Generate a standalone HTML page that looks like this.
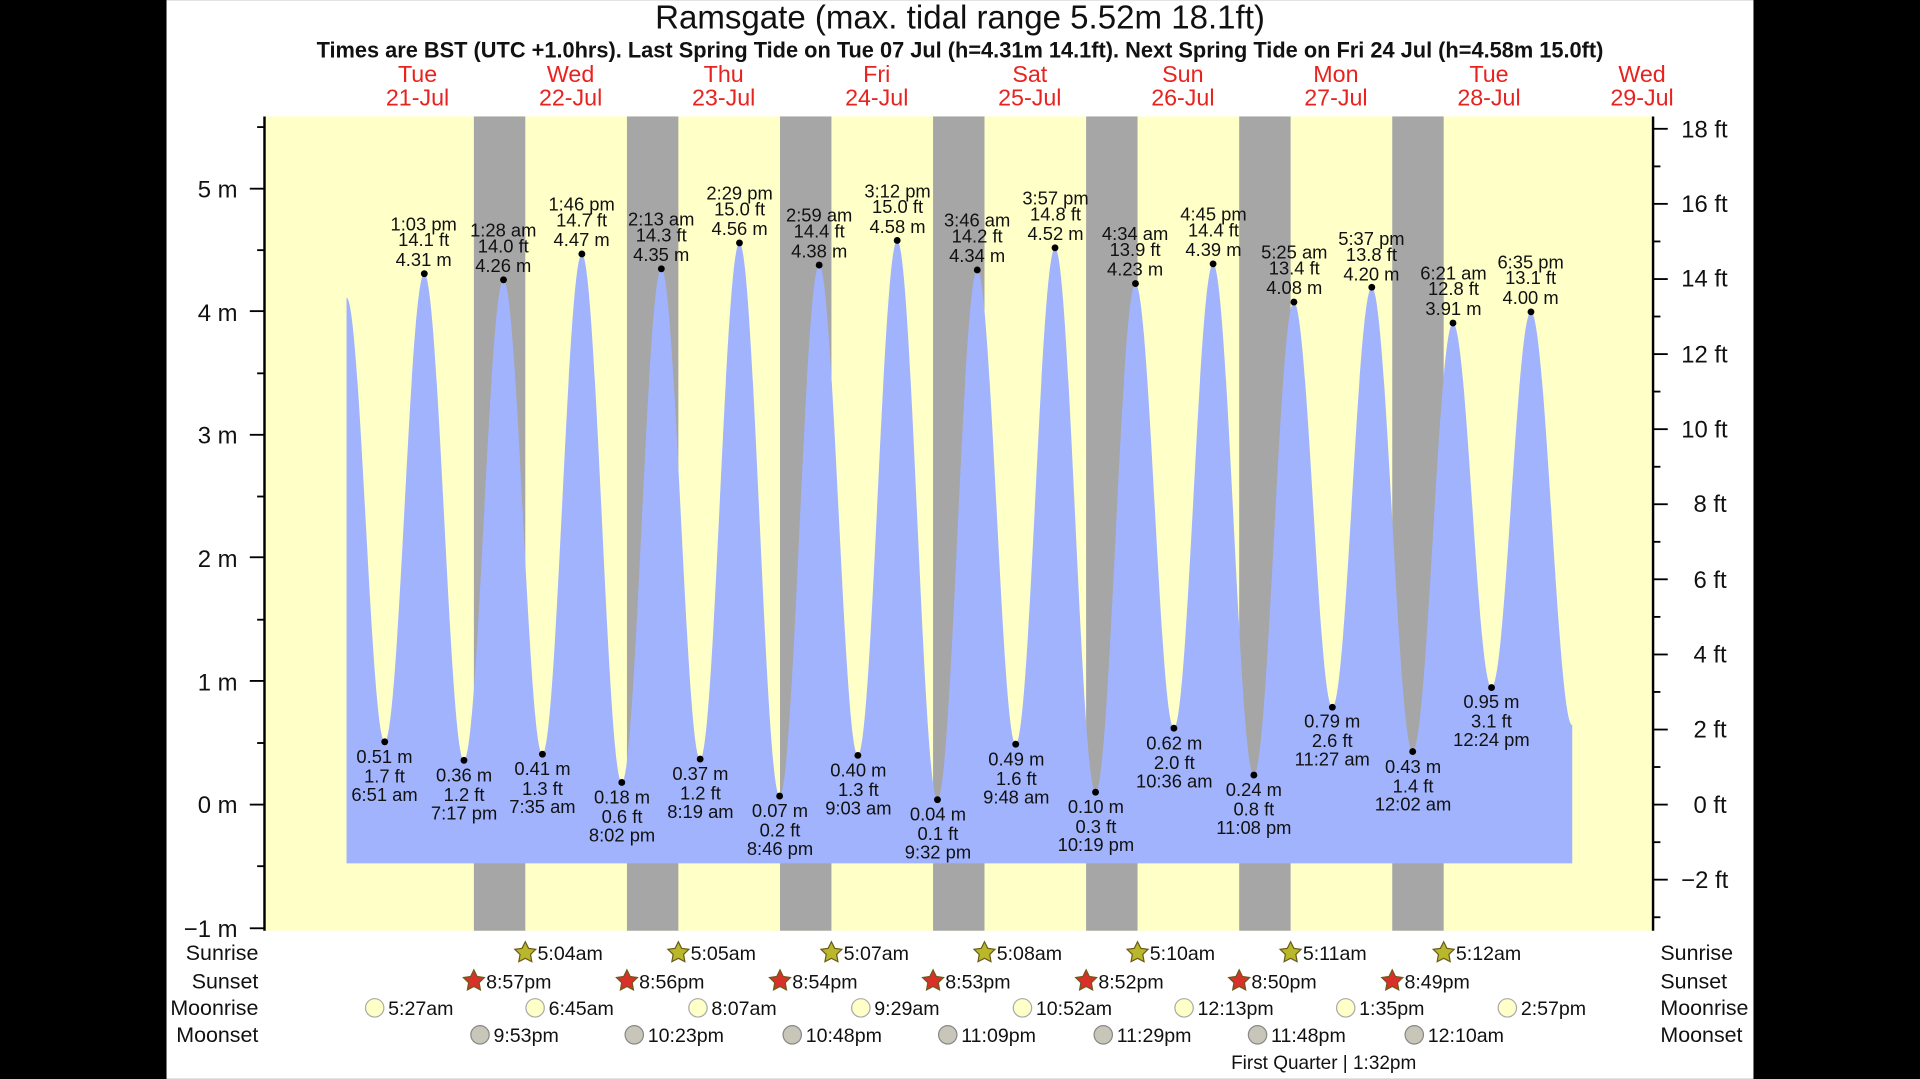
<!DOCTYPE html>
<html><head><meta charset="utf-8"><style>
html,body{margin:0;padding:0;background:#000;}
svg{display:block;}
text{font-family:"Liberation Sans",Arial,sans-serif;}
</style></head><body>
<svg width="1920" height="1079" viewBox="0 0 1568 881" xmlns="http://www.w3.org/2000/svg">
<rect x="0" y="0" width="1568" height="881" fill="#000"/>
<rect x="136" y="0" width="1296" height="881" fill="#fff"/>
<rect x="216" y="95" width="1134" height="665" fill="#ffffc8"/>
<g fill="#a6a6a6">
<rect x="387" y="95" width="42" height="665"/><rect x="512" y="95" width="42" height="665"/>
<rect x="637" y="95" width="42" height="665"/><rect x="762" y="95" width="42" height="665"/>
<rect x="887" y="95" width="42" height="665"/><rect x="1012" y="95" width="42" height="665"/>
<rect x="1137" y="95" width="42" height="665"/>
</g>
<path fill="#a1b3fd" d="M283,705 L283,243 C294.4,243 302.8,605.7 314.2,605.7 C326,605.7 334.7,223.4 346.5,223.4 C358.3,223.4 367.1,620.8 378.9,620.8 C390.7,620.8 399.4,228.4 411.2,228.4 C422.8,228.4 431.4,615.8 443,615.8 C454.7,615.8 463.5,207.3 475.2,207.3 C487.1,207.3 495.9,638.9 507.8,638.9 C519.6,638.9 528.3,219.4 540.1,219.4 C551.6,219.4 560.3,619.8 571.8,619.8 C583.5,619.8 592.2,198.3 603.9,198.3 C615.8,198.3 624.8,650 636.7,650 C648.5,650 657.2,216.4 669,216.4 C680.5,216.4 689.1,616.8 700.6,616.8 C712.3,616.8 721,196.3 732.7,196.3 C744.7,196.3 753.6,653 765.6,653 C777.4,653 786.3,220.4 798.1,220.4 C809.5,220.4 818.1,607.7 829.5,607.7 C841.2,607.7 849.9,202.3 861.6,202.3 C873.6,202.3 882.7,646.9 894.7,646.9 C906.6,646.9 915.4,231.5 927.3,231.5 C938.7,231.5 947.3,594.6 958.7,594.6 C970.3,594.6 979.1,215.4 990.7,215.4 C1002.8,215.4 1011.9,632.9 1024,632.9 C1035.9,632.9 1044.8,246.6 1056.7,246.6 C1068.1,246.6 1076.7,577.5 1088.1,577.5 C1099.8,577.5 1108.6,234.5 1120.3,234.5 C1132.5,234.5 1141.5,613.7 1153.7,613.7 C1165.7,613.7 1174.6,263.7 1186.6,263.7 C1198.1,263.7 1206.6,561.4 1218.1,561.4 C1229.8,561.4 1238.6,254.6 1250.3,254.6 C1262.5,254.6 1272,592 1284,592 L1284,705 Z"/>
<g fill="#000">
<circle cx="314.2" cy="605.7" r="2.8"/><circle cx="346.5" cy="223.4" r="2.8"/><circle cx="378.9" cy="620.8" r="2.8"/><circle cx="411.2" cy="228.4" r="2.8"/>
<circle cx="443" cy="615.8" r="2.8"/><circle cx="475.2" cy="207.3" r="2.8"/><circle cx="507.8" cy="638.9" r="2.8"/><circle cx="540.1" cy="219.4" r="2.8"/>
<circle cx="571.8" cy="619.8" r="2.8"/><circle cx="603.9" cy="198.3" r="2.8"/><circle cx="636.7" cy="650" r="2.8"/><circle cx="669" cy="216.4" r="2.8"/>
<circle cx="700.6" cy="616.8" r="2.8"/><circle cx="732.7" cy="196.3" r="2.8"/><circle cx="765.6" cy="653" r="2.8"/><circle cx="798.1" cy="220.4" r="2.8"/>
<circle cx="829.5" cy="607.7" r="2.8"/><circle cx="861.6" cy="202.3" r="2.8"/><circle cx="894.7" cy="646.9" r="2.8"/><circle cx="927.3" cy="231.5" r="2.8"/>
<circle cx="958.7" cy="594.6" r="2.8"/><circle cx="990.7" cy="215.4" r="2.8"/><circle cx="1024" cy="632.9" r="2.8"/><circle cx="1056.7" cy="246.6" r="2.8"/>
<circle cx="1088.1" cy="577.5" r="2.8"/><circle cx="1120.3" cy="234.5" r="2.8"/><circle cx="1153.7" cy="613.7" r="2.8"/><circle cx="1186.6" cy="263.7" r="2.8"/>
<circle cx="1218.1" cy="561.4" r="2.8"/><circle cx="1250.3" cy="254.6" r="2.8"/>
</g>
<g stroke="#000" stroke-width="2">
<line x1="216" y1="95" x2="216" y2="760"/><line x1="1350" y1="95" x2="1350" y2="760"/>
</g>
<g stroke="#000" stroke-width="1.5">
<line x1="204" y1="758" x2="216" y2="758"/><line x1="204" y1="657" x2="216" y2="657"/><line x1="204" y1="556" x2="216" y2="556"/><line x1="204" y1="455" x2="216" y2="455"/><line x1="204" y1="355" x2="216" y2="355"/><line x1="204" y1="254" x2="216" y2="254"/><line x1="204" y1="154" x2="216" y2="154"/>
<line x1="210" y1="707.3" x2="216" y2="707.3"/><line x1="210" y1="606.7" x2="216" y2="606.7"/><line x1="210" y1="506" x2="216" y2="506"/><line x1="210" y1="405.4" x2="216" y2="405.4"/><line x1="210" y1="304.8" x2="216" y2="304.8"/><line x1="210" y1="204.2" x2="216" y2="204.2"/><line x1="210" y1="103.7" x2="216" y2="103.7"/>
<line x1="1350" y1="718.3" x2="1362" y2="718.3"/><line x1="1350" y1="657" x2="1362" y2="657"/><line x1="1350" y1="595.7" x2="1362" y2="595.7"/><line x1="1350" y1="534.4" x2="1362" y2="534.4"/><line x1="1350" y1="473" x2="1362" y2="473"/><line x1="1350" y1="411.7" x2="1362" y2="411.7"/><line x1="1350" y1="350.4" x2="1362" y2="350.4"/><line x1="1350" y1="289.1" x2="1362" y2="289.1"/><line x1="1350" y1="227.8" x2="1362" y2="227.8"/><line x1="1350" y1="166.4" x2="1362" y2="166.4"/><line x1="1350" y1="105.1" x2="1362" y2="105.1"/>
<line x1="1350" y1="749" x2="1356" y2="749"/><line x1="1350" y1="687.7" x2="1356" y2="687.7"/><line x1="1350" y1="626.3" x2="1356" y2="626.3"/><line x1="1350" y1="565" x2="1356" y2="565"/><line x1="1350" y1="503.7" x2="1356" y2="503.7"/><line x1="1350" y1="442.4" x2="1356" y2="442.4"/><line x1="1350" y1="381.1" x2="1356" y2="381.1"/><line x1="1350" y1="319.7" x2="1356" y2="319.7"/><line x1="1350" y1="258.4" x2="1356" y2="258.4"/><line x1="1350" y1="197.1" x2="1356" y2="197.1"/><line x1="1350" y1="135.8" x2="1356" y2="135.8"/>
</g>
<g font-size="19.5" text-anchor="end" fill="#111">
<text x="194" y="161">5 m</text><text x="194" y="262">4 m</text><text x="194" y="362">3 m</text>
<text x="194" y="463">2 m</text><text x="194" y="564">1 m</text><text x="194" y="664">0 m</text><text x="194" y="765">−1 m</text>
</g>
<g font-size="19.5" fill="#111">
<text x="1373" y="112">18 ft</text><text x="1373" y="173">16 ft</text><text x="1373" y="234">14 ft</text>
<text x="1373" y="296">12 ft</text><text x="1373" y="357">10 ft</text><text x="1383" y="418">8 ft</text>
<text x="1383" y="480">6 ft</text><text x="1383" y="541">4 ft</text><text x="1383" y="602">2 ft</text>
<text x="1383" y="664">0 ft</text><text x="1373" y="725">−2 ft</text>
</g>
<text x="784" y="23" font-size="27" text-anchor="middle" fill="#111">Ramsgate (max. tidal range 5.52m 18.1ft)</text>
<text x="784" y="47" font-size="17.8" font-weight="bold" text-anchor="middle" fill="#111">Times are BST (UTC +1.0hrs). Last Spring Tide on Tue 07 Jul (h=4.31m 14.1ft). Next Spring Tide on Fri 24 Jul (h=4.58m 15.0ft)</text>
<g font-size="19" text-anchor="middle" fill="#e8231f">
<text x="341" y="67">Tue</text><text x="341" y="86">21-Jul</text>
<text x="466" y="67">Wed</text><text x="466" y="86">22-Jul</text>
<text x="591" y="67">Thu</text><text x="591" y="86">23-Jul</text>
<text x="716" y="67">Fri</text><text x="716" y="86">24-Jul</text>
<text x="841" y="67">Sat</text><text x="841" y="86">25-Jul</text>
<text x="966" y="67">Sun</text><text x="966" y="86">26-Jul</text>
<text x="1091" y="67">Mon</text><text x="1091" y="86">27-Jul</text>
<text x="1216" y="67">Tue</text><text x="1216" y="86">28-Jul</text>
<text x="1341" y="67">Wed</text><text x="1341" y="86">29-Jul</text>
</g>
<g font-size="15" text-anchor="middle" fill="#111">
<text x="314" y="623">0.51 m</text><text x="314" y="639">1.7 ft</text><text x="314" y="654">6:51 am</text>
<text x="346" y="188">1:03 pm</text><text x="346" y="201">14.1 ft</text><text x="346" y="217">4.31 m</text>
<text x="379" y="638">0.36 m</text><text x="379" y="654">1.2 ft</text><text x="379" y="669">7:17 pm</text>
<text x="411" y="193">1:28 am</text><text x="411" y="206">14.0 ft</text><text x="411" y="222">4.26 m</text>
<text x="443" y="633">0.41 m</text><text x="443" y="649">1.3 ft</text><text x="443" y="664">7:35 am</text>
<text x="475" y="172">1:46 pm</text><text x="475" y="185">14.7 ft</text><text x="475" y="201">4.47 m</text>
<text x="508" y="656">0.18 m</text><text x="508" y="672">0.6 ft</text><text x="508" y="687">8:02 pm</text>
<text x="540" y="184">2:13 am</text><text x="540" y="197">14.3 ft</text><text x="540" y="213">4.35 m</text>
<text x="572" y="637">0.37 m</text><text x="572" y="653">1.2 ft</text><text x="572" y="668">8:19 am</text>
<text x="604" y="163">2:29 pm</text><text x="604" y="176">15.0 ft</text><text x="604" y="192">4.56 m</text>
<text x="637" y="667">0.07 m</text><text x="637" y="683">0.2 ft</text><text x="637" y="698">8:46 pm</text>
<text x="669" y="181">2:59 am</text><text x="669" y="194">14.4 ft</text><text x="669" y="210">4.38 m</text>
<text x="701" y="634">0.40 m</text><text x="701" y="650">1.3 ft</text><text x="701" y="665">9:03 am</text>
<text x="733" y="161">3:12 pm</text><text x="733" y="174">15.0 ft</text><text x="733" y="190">4.58 m</text>
<text x="766" y="670">0.04 m</text><text x="766" y="686">0.1 ft</text><text x="766" y="701">9:32 pm</text>
<text x="798" y="185">3:46 am</text><text x="798" y="198">14.2 ft</text><text x="798" y="214">4.34 m</text>
<text x="830" y="625">0.49 m</text><text x="830" y="641">1.6 ft</text><text x="830" y="656">9:48 am</text>
<text x="862" y="167">3:57 pm</text><text x="862" y="180">14.8 ft</text><text x="862" y="196">4.52 m</text>
<text x="895" y="664">0.10 m</text><text x="895" y="680">0.3 ft</text><text x="895" y="695">10:19 pm</text>
<text x="927" y="196">4:34 am</text><text x="927" y="209">13.9 ft</text><text x="927" y="225">4.23 m</text>
<text x="959" y="612">0.62 m</text><text x="959" y="628">2.0 ft</text><text x="959" y="643">10:36 am</text>
<text x="991" y="180">4:45 pm</text><text x="991" y="193">14.4 ft</text><text x="991" y="209">4.39 m</text>
<text x="1024" y="650">0.24 m</text><text x="1024" y="666">0.8 ft</text><text x="1024" y="681">11:08 pm</text>
<text x="1057" y="211">5:25 am</text><text x="1057" y="224">13.4 ft</text><text x="1057" y="240">4.08 m</text>
<text x="1088" y="594">0.79 m</text><text x="1088" y="610">2.6 ft</text><text x="1088" y="625">11:27 am</text>
<text x="1120" y="200">5:37 pm</text><text x="1120" y="213">13.8 ft</text><text x="1120" y="229">4.20 m</text>
<text x="1154" y="631">0.43 m</text><text x="1154" y="647">1.4 ft</text><text x="1154" y="662">12:02 am</text>
<text x="1187" y="228">6:21 am</text><text x="1187" y="241">12.8 ft</text><text x="1187" y="257">3.91 m</text>
<text x="1218" y="578">0.95 m</text><text x="1218" y="594">3.1 ft</text><text x="1218" y="609">12:24 pm</text>
<text x="1250" y="219">6:35 pm</text><text x="1250" y="232">13.1 ft</text><text x="1250" y="248">4.00 m</text>
</g>
<g font-size="17.5" text-anchor="end" fill="#111">
<text x="211" y="784">Sunrise</text><text x="211" y="807">Sunset</text><text x="211" y="829">Moonrise</text><text x="211" y="851">Moonset</text>
</g>
<g font-size="17.5" fill="#111">
<text x="1356" y="784">Sunrise</text><text x="1356" y="807">Sunset</text><text x="1356" y="829">Moonrise</text><text x="1356" y="851">Moonset</text>
</g>
<g fill="#b8b82a" stroke="#6b5a1a" stroke-width="1">
<polygon transform="translate(429,778)" points="0,-9 2.65,-3.64 8.56,-2.78 4.28,1.39 5.29,7.28 0,4.5 -5.29,7.28 -4.28,1.39 -8.56,-2.78 -2.65,-3.64"/>
<polygon transform="translate(554,778)" points="0,-9 2.65,-3.64 8.56,-2.78 4.28,1.39 5.29,7.28 0,4.5 -5.29,7.28 -4.28,1.39 -8.56,-2.78 -2.65,-3.64"/>
<polygon transform="translate(679,778)" points="0,-9 2.65,-3.64 8.56,-2.78 4.28,1.39 5.29,7.28 0,4.5 -5.29,7.28 -4.28,1.39 -8.56,-2.78 -2.65,-3.64"/>
<polygon transform="translate(804,778)" points="0,-9 2.65,-3.64 8.56,-2.78 4.28,1.39 5.29,7.28 0,4.5 -5.29,7.28 -4.28,1.39 -8.56,-2.78 -2.65,-3.64"/>
<polygon transform="translate(929,778)" points="0,-9 2.65,-3.64 8.56,-2.78 4.28,1.39 5.29,7.28 0,4.5 -5.29,7.28 -4.28,1.39 -8.56,-2.78 -2.65,-3.64"/>
<polygon transform="translate(1054,778)" points="0,-9 2.65,-3.64 8.56,-2.78 4.28,1.39 5.29,7.28 0,4.5 -5.29,7.28 -4.28,1.39 -8.56,-2.78 -2.65,-3.64"/>
<polygon transform="translate(1179,778)" points="0,-9 2.65,-3.64 8.56,-2.78 4.28,1.39 5.29,7.28 0,4.5 -5.29,7.28 -4.28,1.39 -8.56,-2.78 -2.65,-3.64"/>
</g>
<g fill="#d9302a" stroke="#6b5a1a" stroke-width="1">
<polygon transform="translate(387,801)" points="0,-9 2.65,-3.64 8.56,-2.78 4.28,1.39 5.29,7.28 0,4.5 -5.29,7.28 -4.28,1.39 -8.56,-2.78 -2.65,-3.64"/>
<polygon transform="translate(512,801)" points="0,-9 2.65,-3.64 8.56,-2.78 4.28,1.39 5.29,7.28 0,4.5 -5.29,7.28 -4.28,1.39 -8.56,-2.78 -2.65,-3.64"/>
<polygon transform="translate(637,801)" points="0,-9 2.65,-3.64 8.56,-2.78 4.28,1.39 5.29,7.28 0,4.5 -5.29,7.28 -4.28,1.39 -8.56,-2.78 -2.65,-3.64"/>
<polygon transform="translate(762,801)" points="0,-9 2.65,-3.64 8.56,-2.78 4.28,1.39 5.29,7.28 0,4.5 -5.29,7.28 -4.28,1.39 -8.56,-2.78 -2.65,-3.64"/>
<polygon transform="translate(887,801)" points="0,-9 2.65,-3.64 8.56,-2.78 4.28,1.39 5.29,7.28 0,4.5 -5.29,7.28 -4.28,1.39 -8.56,-2.78 -2.65,-3.64"/>
<polygon transform="translate(1012,801)" points="0,-9 2.65,-3.64 8.56,-2.78 4.28,1.39 5.29,7.28 0,4.5 -5.29,7.28 -4.28,1.39 -8.56,-2.78 -2.65,-3.64"/>
<polygon transform="translate(1137,801)" points="0,-9 2.65,-3.64 8.56,-2.78 4.28,1.39 5.29,7.28 0,4.5 -5.29,7.28 -4.28,1.39 -8.56,-2.78 -2.65,-3.64"/>
</g>
<g fill="#ffffc8" stroke="#aaa" stroke-width="1">
<circle cx="306" cy="823" r="7.5"/><circle cx="437" cy="823" r="7.5"/><circle cx="570" cy="823" r="7.5"/><circle cx="703" cy="823" r="7.5"/>
<circle cx="835" cy="823" r="7.5"/><circle cx="967" cy="823" r="7.5"/><circle cx="1099" cy="823" r="7.5"/><circle cx="1231" cy="823" r="7.5"/>
</g>
<g fill="#c8c6b8" stroke="#888" stroke-width="1">
<circle cx="392" cy="845" r="7.5"/><circle cx="518" cy="845" r="7.5"/><circle cx="647" cy="845" r="7.5"/><circle cx="774" cy="845" r="7.5"/>
<circle cx="901" cy="845" r="7.5"/><circle cx="1027" cy="845" r="7.5"/><circle cx="1155" cy="845" r="7.5"/>
</g>
<g font-size="16" fill="#111">
<text x="439" y="784">5:04am</text><text x="564" y="784">5:05am</text><text x="689" y="784">5:07am</text><text x="814" y="784">5:08am</text><text x="939" y="784">5:10am</text><text x="1064" y="784">5:11am</text><text x="1189" y="784">5:12am</text>
<text x="397" y="807">8:57pm</text><text x="522" y="807">8:56pm</text><text x="647" y="807">8:54pm</text><text x="772" y="807">8:53pm</text><text x="897" y="807">8:52pm</text><text x="1022" y="807">8:50pm</text><text x="1147" y="807">8:49pm</text>
<text x="317" y="829">5:27am</text><text x="448" y="829">6:45am</text><text x="581" y="829">8:07am</text><text x="714" y="829">9:29am</text><text x="846" y="829">10:52am</text><text x="978" y="829">12:13pm</text><text x="1110" y="829">1:35pm</text><text x="1242" y="829">2:57pm</text>
<text x="403" y="851">9:53pm</text><text x="529" y="851">10:23pm</text><text x="658" y="851">10:48pm</text><text x="785" y="851">11:09pm</text><text x="912" y="851">11:29pm</text><text x="1038" y="851">11:48pm</text><text x="1166" y="851">12:10am</text>
<text x="1081" y="873" font-size="15.5" text-anchor="middle">First Quarter | 1:32pm</text>
</g>
</svg>
</body></html>
